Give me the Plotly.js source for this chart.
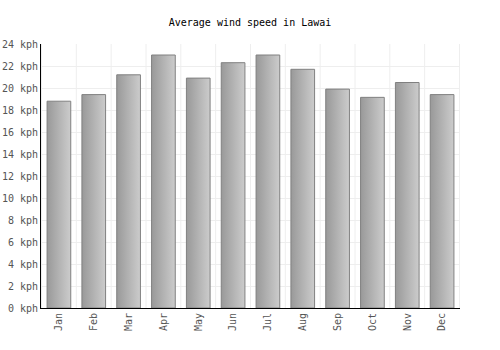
<!DOCTYPE html>
<html><head><meta charset="utf-8">
<script src="https://cdn.plot.ly/plotly-3.0.1.min.js"></script>
<style>body{margin:0;background:#fff}#c{width:500px;height:350px}</style>
</head><body><div id="c"></div>
<script>
var months = ["Jan","Feb","Mar","Apr","May","Jun","Jul","Aug","Sep","Oct","Nov","Dec"];
var windKph = [18.8,19.4,21.2,23.0,20.9,22.3,23.0,21.7,19.9,19.15,20.5,19.4];
var yTicks = [0,2,4,6,8,10,12,14,16,18,20,22,24];
var yTickText = yTicks.map(function(v){return v+" kph";});

var font = "DejaVu Sans Mono, monospace";
var trace = {
  type: "bar", x: months, y: windKph, width: 0.68,
  marker: {color: "#b0b0b0", line: {color: "#808080", width: 1}},
  hoverinfo: "none"
};
var layout = {
  width: 500, height: 350,
  margin: {l: 41, r: 40, t: 44, b: 42},
  paper_bgcolor: "#fff", plot_bgcolor: "#fff",
  title: {text: "Average wind speed in Lawai", x: 0.5, xanchor: "center", y: 0.937, yanchor: "middle",
          font: {family: font, size: 10, color: "#000"}},
  xaxis: {tickangle: -90, showgrid: false, showline: true, linecolor: "#000", linewidth: 1,
          ticks: "", tickfont: {family: font, size: 10, color: "#555"}, fixedrange: true},
  yaxis: {range: [0, 24], tickvals: yTicks, ticktext: yTickText, showgrid: true, gridcolor: "#eeeeee",
          showline: true, linecolor: "#000", linewidth: 1, ticks: "", zeroline: false,
          tickfont: {family: font, size: 10, color: "#555"}, fixedrange: true},
  shapes: [],
  showlegend: false
};
// vertical grid lines at category boundaries
for (var i = 0; i <= months.length; i++) {
  layout.shapes.push({type: "line", xref: "x", yref: "paper", x0: i - 0.5, x1: i - 0.5, y0: 0, y1: 1,
    line: {color: "#eeeeee", width: 1}, layer: "below"});
}
Plotly.newPlot("c", [trace], layout, {staticPlot: true}).then(function(gd){
  var svg = gd.querySelector("svg.main-svg");
  var ns = "http://www.w3.org/2000/svg";
  var defs = svg.querySelector("defs") || svg.insertBefore(document.createElementNS(ns,"defs"), svg.firstChild);
  var g = document.createElementNS(ns, "linearGradient");
  g.setAttribute("id", "barGrad"); g.setAttribute("x1","0"); g.setAttribute("x2","1"); g.setAttribute("y1","0"); g.setAttribute("y2","0");
  [["0","#999999"],["1","#cccccc"]].forEach(function(s){
    var st = document.createElementNS(ns,"stop"); st.setAttribute("offset", s[0]); st.setAttribute("stop-color", s[1]); g.appendChild(st);
  });
  defs.appendChild(g);
  gd.querySelectorAll(".bars .point path").forEach(function(p){ p.style.fill = "url(#barGrad)"; });
});
</script></body></html>
